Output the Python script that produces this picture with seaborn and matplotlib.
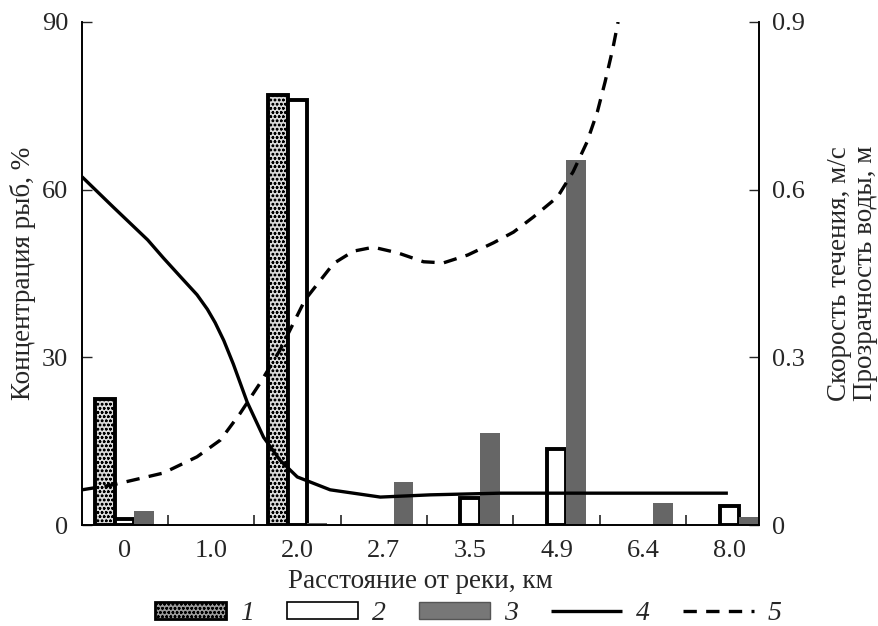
import numpy as np
import pandas as pd
import matplotlib
matplotlib.use("Agg")
import matplotlib.pyplot as plt
import matplotlib.patches as mpatches
from matplotlib.lines import Line2D
from matplotlib.ticker import FixedLocator
import seaborn as sns

# ── data ──────────────────────────────────────────────────────────────────────
distances = ["0", "1.0", "2.0", "2.7", "3.5", "4.9", "6.4", "8.0"]
series_names = ["1", "2", "3"]
conc_1 = [22.5, np.nan, 77.0, np.nan, np.nan, np.nan, np.nan, np.nan]
conc_2 = [1.0, np.nan, 76.0, np.nan, 4.8, 13.6, np.nan, 3.4]
conc_3 = [2.5, np.nan, 0.3, 7.7, 16.5, 65.3, 3.9, 1.5]

# line 4: current velocity, m/s (x in category positions)
vel_x = [-0.49, -0.13, 0.27, 0.45, 0.65, 0.84, 0.96, 1.05, 1.15, 1.26, 1.42,
         1.61, 1.80, 2.00, 2.38, 2.96, 3.54, 4.35, 5.50, 6.98]
vel_y = [0.623, 0.569, 0.510, 0.478, 0.444, 0.412, 0.386, 0.362, 0.330, 0.288,
         0.220, 0.157, 0.116, 0.086, 0.063, 0.050, 0.054, 0.057, 0.057, 0.057]

# line 5: water transparency, m
tr_x = [-0.49, -0.13, 0.45, 0.84, 1.11, 1.34, 1.57, 1.80, 2.09, 2.42, 2.65,
        2.88, 3.16, 3.46, 3.69, 3.97, 4.27, 4.50, 4.73, 5.01, 5.19, 5.35,
        5.47, 5.56, 5.65, 5.71]
tr_y = [0.063, 0.072, 0.093, 0.122, 0.152, 0.200, 0.254, 0.313, 0.403, 0.468,
        0.490, 0.497, 0.487, 0.471, 0.469, 0.483, 0.505, 0.524, 0.551, 0.587,
        0.632, 0.685, 0.739, 0.793, 0.853, 0.900]

# ── style ─────────────────────────────────────────────────────────────────────
sns.set_theme(style="white")
plt.rcParams.update({
    "font.family": ["Liberation Serif", "DejaVu Serif"],
    "font.size": 20,
    "axes.labelsize": 19.5,
    "xtick.labelsize": 19,
    "ytick.labelsize": 19,
    "hatch.linewidth": 0.7,
    "axes.edgecolor": "black",
    "axes.linewidth": 1.2,
    "lines.solid_capstyle": "butt",
})

bars = pd.DataFrame({
    "dist": distances * 3,
    "series": sum([[s] * len(distances) for s in series_names], []),
    "value": conc_1 + conc_2 + conc_3,
})

fig = plt.figure(figsize=(8.79, 6.26), dpi=100)
ax = fig.add_axes([0.0933, 0.1613, 0.7702, 0.8036])

sns.barplot(data=bars, x="dist", y="value", hue="series", order=distances,
            hue_order=series_names, dodge=True, width=0.68, errorbar=None,
            legend=False, ax=ax)

styles = [
    dict(facecolor="#d9d9d9", edgecolor="black", linewidth=2.8, hatch="oooo"),
    dict(facecolor="white", edgecolor="black", linewidth=2.8, hatch=None),
    dict(facecolor="#666666", edgecolor="#666666", linewidth=0, hatch=None),
]
for cont, st in zip(ax.containers, styles):
    for p in cont:
        p.set_facecolor(st["facecolor"])
        p.set_edgecolor(st["edgecolor"])
        p.set_linewidth(st["linewidth"])
        if st["hatch"]:
            p.set_hatch(st["hatch"])

ax.set_ylim(0, 90)
ax.set_yticks([0, 30, 60, 90])
ax.set_xlabel("Расстояние от реки, км", labelpad=5)
ax.set_ylabel("Концентрация рыб, %", labelpad=4)
ax.tick_params(axis="x", which="major", length=0, pad=11)
ax.xaxis.set_minor_locator(FixedLocator(np.arange(0.5, 7.0, 1.0)))
ax.tick_params(axis="x", which="minor", direction="in", length=7, width=1.2,
               bottom=True)
ax.tick_params(axis="y", direction="in", length=7, width=1.0, left=True, pad=10)

ax2 = ax.twinx()
sns.lineplot(x=vel_x, y=vel_y, ax=ax2, color="black", linewidth=2.4,
             sort=False, estimator=None)
sns.lineplot(x=tr_x, y=tr_y, ax=ax2, color="black", linewidth=2.4,
             sort=False, estimator=None)
ax2.lines[1].set_dashes([4, 2.8])
ax2.set_ylim(0, 0.9)
ax2.set_yticks([0, 0.3, 0.6, 0.9])
ax2.set_yticklabels(["0", "0.3", "0.6", "0.9"])
ax2.tick_params(axis="y", direction="in", length=7, width=1.0, right=True, pad=9)
ax2.set_ylabel("Скорость течения, м/с\nПрозрачность воды, м", labelpad=16,
               linespacing=1.05)

for a in (ax, ax2):
    a.spines["top"].set_visible(False)
ax.set_xlim(-0.49, 7.34)

# legend
handles = [
    mpatches.Patch(facecolor="#9a9a9a", edgecolor="black", linewidth=2.0,
                   hatch="oooo"),
    mpatches.Patch(facecolor="white", edgecolor="black", linewidth=1.2),
    mpatches.Patch(facecolor="#777777", edgecolor="#555555", linewidth=1.0),
    Line2D([0], [0], color="black", linewidth=2.4),
    Line2D([0], [0], color="black", linewidth=2.4, dashes=[4, 2.8]),
]
labels = ["1", "2", "3", "4", "5"]
fig.legend(handles, labels, loc="center", bbox_to_anchor=(0.533, 0.02),
           ncol=5, frameon=False, handlelength=2.55, handleheight=0.55,
           handletextpad=0.5, columnspacing=1.2,
           prop={"family": "Liberation Serif", "style": "italic", "size": 20})

fig.savefig("out.png", dpi=100)
